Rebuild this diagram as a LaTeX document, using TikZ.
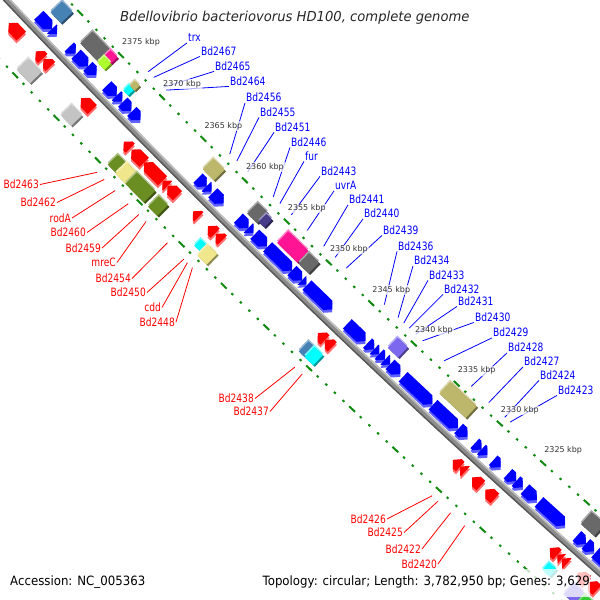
\documentclass[tikz,border=0pt]{standalone}
\usepackage{fontspec}
\setmainfont{DejaVu Sans}
\newfontfamily\labelfont[FakeStretch=0.79]{DejaVu Sans}
\newfontfamily\footfont[FakeStretch=0.92]{DejaVu Sans}
\newfontfamily\titlefont[FakeStretch=0.96]{DejaVu Sans}
\usepackage{tikz}
\definecolor{fwdface}{HTML}{0000FF}
\definecolor{fwdside}{HTML}{6060FF}
\definecolor{revface}{HTML}{FF0000}
\definecolor{revside}{HTML}{FF7070}
\definecolor{rulergreen}{HTML}{108A10}
\definecolor{cogsteel}{HTML}{4682B4}
\definecolor{cogdim}{HTML}{696969}
\definecolor{cogpink}{HTML}{FF1493}
\definecolor{coglime}{HTML}{ADFF2F}
\definecolor{cogcyan}{HTML}{00FFFF}
\definecolor{cogkhaki}{HTML}{BDB76B}
\definecolor{cogpale}{HTML}{F0E68C}
\definecolor{cogolive}{HTML}{6B8E23}
\definecolor{cogsilver}{HTML}{C4C4C4}
\definecolor{cogslate}{HTML}{483D8B}
\definecolor{coglav}{HTML}{7B68EE}
\definecolor{coggreen}{HTML}{32CD32}
\tikzstyle{bluelabel} = [text=fwdface, font=\labelfont\fontsize{11.5}{11.5}\selectfont, inner sep=1pt, text height=8.4pt, text depth=0pt, anchor=west]
\tikzstyle{redlabel} = [text=revface, font=\labelfont\fontsize{11.5}{11.5}\selectfont, inner sep=1pt, text height=8.4pt, text depth=0pt, anchor=east]
\tikzstyle{blueline} = [fwdface, line width=0.8pt]
\tikzstyle{redline} = [revface, line width=0.8pt]
\tikzstyle{kbplabel} = [text=black!80, font=\fontsize{8}{8}\selectfont, fill=white, fill opacity=0.7, text opacity=1, inner sep=1pt, anchor=west]
\tikzstyle{tickdot} = [rulergreen, line width=2pt]
% position on the ring: s along the genome, d off the backbone
\newcommand{\rp}[2]{({(#1)-(#2)*((#1)/9454)-(#1)*((#1)/9454)*((#1)/9454)/6},{(#2)+(#1)*((#1)/9454)/2-(#2)*((#1)/9454)*((#1)/9454)/2})}
\def\shpfwd{(0,\flo) -- ({\fl-\ft},\flo) -- (\fl,\fm) -- ({\fl-\ft},\fhi) -- (0,\fhi) -- cycle}
\def\shprev{(\fl,\flo) -- (\ft,\flo) -- (0,\fm) -- (\ft,\fhi) -- (\fl,\fhi) -- cycle}
\def\shpbox{(0,\flo) rectangle (\fl,\fhi)}
% #1 shape, #2 from, #3 to, #4 low side, #5 high side, #6 face colour, #7 side colour
\newcommand{\feat}[7]{%
  \pgfmathsetmacro\fx{(#2)-(#2)*((#2)/9454)*((#2)/9454)/6}%
  \pgfmathsetmacro\fy{(#2)*((#2)/9454)/2}%
  \pgfmathsetmacro\fr{(#2)*0.0060605}%
  \pgfmathsetmacro\fl{(#3)-(#2)}%
  \pgfmathsetmacro\ft{min(\fl,6)}%
  \pgfmathsetmacro\fm{((#4)+(#5))/2}%
  \def\flo{#4}\def\fhi{#5}%
  \expandafter\let\expandafter\shp\csname shp#1\endcsname
  \begin{scope}[shift={(\fx,\fy)}, rotate=\fr]
    \fill[#7, shift={(2,-2)}] \shp;
    \fill[#6] \shp;
  \end{scope}}
\newcommand{\cog}[6]{%
  \pgfmathsetmacro\fx{(#1)-(#1)*((#1)/9454)*((#1)/9454)/6}%
  \pgfmathsetmacro\fy{(#1)*((#1)/9454)/2}%
  \pgfmathsetmacro\fr{(#1)*0.0060605}%
  \pgfmathsetmacro\fl{(#2)-(#1)}%
  \def\flo{#3}\def\fhi{#4}%
  \begin{scope}[shift={(\fx,\fy)}, rotate=\fr, opacity=#6]
    \fill[#5!55!white, shift={(-1.6,1.6)}] \shpbox;
    \fill[#5!60!black, shift={(2.2,0)}] \shpbox;
    \fill[#5] \shpbox;
  \end{scope}}
\newcommand{\track}[1]{\rp{-30}{#1} \foreach \s in {-10,10,...,890} {-- \rp{\s}{#1}}}
\def\bluelist{trx/187/37.5/150, Bd2467/200/51/158, Bd2465/214/66/172, Bd2464/229/81/176,
  Bd2456/245/97.5/266.6, Bd2455/259/112/276.6, Bd2451/274/127/292, Bd2446/290/142/328,
  fur/304/156/337.4, Bd2443/320/171/353.6, uvrA/334/185.5/376, Bd2441/348/199.5/399,
  Bd2440/363/213.5/415, Bd2439/382/230/430.5, Bd2436/397/246/483.6, Bd2434/413/260.5/502.6,
  Bd2433/428/275/510.5, Bd2432/443/289/518, Bd2431/457/301/527, Bd2430/474/317/536.5,
  Bd2429/492/332.5/566, Bd2428/507/347.5/603.6, Bd2427/523/361.5/627.6, Bd2424/539/375/649.4,
  Bd2423/557/390/656.6}
\def\redlist{Bd2463/40/184.5/186, Bd2462/57/202.5/196, rodA/72/218/211.5, Bd2460/87/232.5/230,
  Bd2459/102/248/245, mreC/117/262.5/255, Bd2454/132/278.5/285, Bd2450/147/292.5/308,
  cdd/162/307.5/313, Bd2448/176/322/320, Bd2438/255/398.5/462, Bd2437/270/411.5/472,
  Bd2426/387/519/649, Bd2425/404/532.5/657, Bd2422/422/549/674, Bd2420/438/564/693}

\begin{document}
\begin{tikzpicture}[x=1pt, y=-1pt]
\useasboundingbox (0,0) rectangle (600,600);
\clip (0,0) rectangle (600,600);
\fill[white] (0,0) rectangle (600,600);

\begin{scope}[shift={(7,0)}, rotate=-46.53, y=1pt]
  % backbone
  \draw[line width=6pt, black!45] \track{0};
  \draw[line width=1.5pt, black!25] \track{2.3};
  \draw[line width=1.5pt, black!65] \track{-2.5};

  % genes on the forward strand
  \foreach \a/\b in {33/52, 52/59, 77/86, 87/104, 104/116, 131/145, 145/153, 154/166, 167/179,
      261/273, 273/280, 282/297, 318/332, 332/339, 341/358, 359/393, 393/407, 407/413, 414/449,
      470/495, 498/507, 507/514, 514/522, 522/529, 529/543, 547/587, 588/622, 623/635, 645/654,
      654/662, 670/680, 690/701, 701/710, 713/729, 732/767, 783/795, 795/806, 808/830}
    {\feat{fwd}{\a}{\b}{6}{19}{fwdface}{fwdside}}
  % genes on the reverse strand
  \foreach \a/\b in {18/36, 57/67, 68/78, 122/138, 183/192, 194/212, 212/238, 238/245, 245/259,
      281/289, 302/312, 313/322, 455/465, 465/475, 640/650, 650/657, 666/678, 684/697,
      771/781, 781/787, 787/794, 808/820, 822/834}
    {\feat{rev}{\a}{\b}{-21}{-8}{revface}{revside}}
  % COG classes, outer side
  \foreach \a/\b/\lo/\hi/\c in {39/54/23/39/cogsteel, 82/108/23/40/cogdim, 108/118/31/40/cogpink,
      108/118/22/31/coglime, 146/153/21/29/cogcyan, 147/154/29/36/cogkhaki, 258/274/22/37/cogkhaki,
      321/335/22/37/cogdim, 335/343/24/35/cogslate, 363/391/22/38/cogpink, 393/407/22/37/cogdim,
      516/530/23/37/coglav, 585/621/25/41/cogkhaki, 778/796/24/40/cogdim}
    {\cog{\a}{\b}{\lo}{\hi}{\c}{1}}
  % COG classes, inner side
  \foreach \a/\b/\lo/\hi/\c in {57/76/-41/-25/cogsilver, 120/135/-41/-26/cogsilver,
      188/200/-42/-28/cogolive, 200/214/-43/-27/cogpale, 214/240/-43/-27/cogolive,
      246/259/-43/-28/cogolive, 306/315/-38/-29/cogcyan, 315/328/-43/-28/cogpale,
      454/462/-41/-27/cogsteel, 462/474/-41/-27/cogcyan, 780/790/-36/-26/cogcyan,
      812/826/-40/-25/coglav, 828/850/-42/-26/coggreen}
    {\cog{\a}{\b}{\lo}{\hi}{\c}{1}}

  % rulers
  \foreach \k in {2314,...,2383} {
    \pgfmathsetmacro\s{119+(2375-\k)*11.8}
    \pgfmathsetmacro\h{mod(\k,5)==0 ? 4 : 1.2}
    \draw[tickdot] \rp{\s-\h}{44} -- \rp{\s+\h}{44};
    \draw[tickdot] \rp{\s-\h}{-46} -- \rp{\s+\h}{-46};
  }
  \foreach \k in {2375,2370,...,2325} {
    \pgfmathsetmacro\s{119+(2375-\k)*11.8}
    \path \rp{\s}{44} coordinate (tick\k);
  }
  \foreach \n/\x/\y/\s in \bluelist {\path \rp{\s}{52} coordinate (g\n);}
  \foreach \n/\x/\y/\s in \redlist {\path \rp{\s}{-55} coordinate (g\n);}
\end{scope}

\foreach \n/\x/\y/\s in \bluelist {
  \node[bluelabel] (l\n) at (\x,\y) {\n};
  \draw[blueline] (g\n) -- (l\n.south west);
}
\foreach \n/\x/\y/\s in \redlist {
  \node[redlabel] (l\n) at (\x,\y) {\n};
  \draw[redline] (g\n) -- (l\n.east);
}
\foreach \k in {2375,2370,...,2325}
  \node[kbplabel] (kbp\k) at ([yshift=13pt]tick\k) {\k\ kbp};

\node[anchor=west, inner sep=0pt, text=black!85, font=\titlefont\fontsize{13.7}{13.7}\selectfont\itshape] (title) at (120,18) {Bdellovibrio bacteriovorus HD100, complete genome};
\fill[white, opacity=0.75] (252,569) rectangle (590,597);
\node[anchor=west, inner sep=0pt, font=\footfont\fontsize{12.8}{12.8}\selectfont] (acc) at (10,582) {Accession: NC\_005363};
\node[anchor=east, inner sep=0pt, font=\footfont\fontsize{12.8}{12.8}\selectfont] (topo) at (590,582) {Topology: circular; Length: 3,782,950 bp; Genes: 3,629};
\end{tikzpicture}
\end{document}
